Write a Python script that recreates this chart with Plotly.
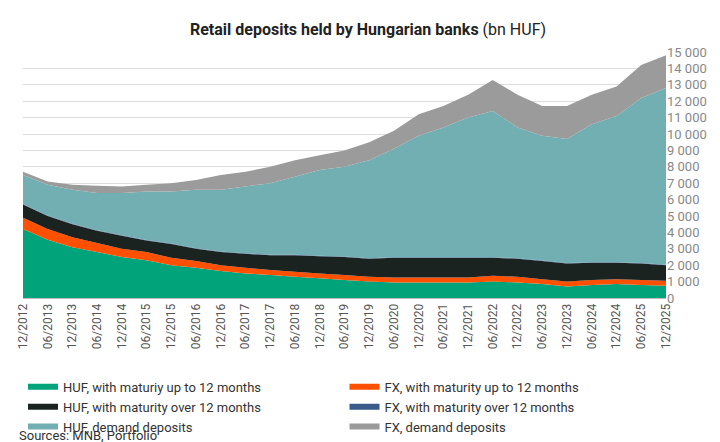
import numpy as np
import plotly.graph_objects as go

dates = ["2012-12-01","2013-06-01","2013-12-01","2014-06-01","2014-12-01","2015-06-01","2015-12-01",
         "2016-06-01","2016-12-01","2017-06-01","2017-12-01","2018-06-01","2018-12-01","2019-06-01",
         "2019-12-01","2020-06-01","2020-12-01","2021-06-01","2021-12-01","2022-06-01","2022-12-01",
         "2023-06-01","2023-12-01","2024-06-01","2024-12-01","2025-06-01","2025-12-01"]
tick_labels = [("12/" if d[5:7] == "12" else "06/") + d[:4] for d in dates]

# Read boundaries (cumulative tops of each stacked layer, bn HUF)
huf_short_top = [4200,3550,3100,2800,2500,2300,2000,1850,1650,1500,1400,1300,1200,1100,1000,950,950,950,950,1000,950,850,700,800,850,800,750]
fx_short_top  = [4900,4200,3700,3350,3000,2800,2450,2250,2000,1850,1700,1600,1500,1400,1300,1250,1250,1250,1250,1350,1300,1150,1000,1100,1150,1100,1050]
huf_long_top  = [5700,5000,4500,4100,3800,3500,3300,3000,2800,2700,2600,2600,2550,2500,2400,2450,2450,2450,2450,2450,2400,2250,2100,2150,2150,2100,2000]
fx_long_top   = [5730,5030,4530,4130,3830,3530,3330,3030,2830,2730,2630,2630,2580,2530,2430,2480,2480,2480,2480,2480,2430,2280,2130,2180,2180,2130,2030]
huf_dem_top   = [7500,6900,6600,6400,6400,6500,6500,6600,6600,6800,7000,7400,7800,8000,8400,9100,9900,10400,11000,11400,10400,9900,9700,10600,11100,12200,12800]
fx_dem_top    = [7700,7100,6900,6850,6800,6900,7000,7200,7500,7700,8000,8400,8700,9000,9500,10200,11200,11700,12400,13300,12400,11700,11700,12400,12900,14200,14800]

tops = np.array([huf_short_top, fx_short_top, huf_long_top, fx_long_top, huf_dem_top, fx_dem_top])
comps = np.diff(np.vstack([np.zeros(len(dates)), tops]), axis=0)

names = ["HUF, with maturiy up to 12 months", "FX, with maturity up to 12 months",
         "HUF, with maturity over 12 months", "FX, with maturity over 12 months",
         "HUF, demand deposits", "FX, demand deposits"]
colors = ["#00A37A", "#FF5000", "#1B2320", "#3A5A8C", "#72AFB2", "#9B9B9B"]

fig = go.Figure()
for n, c, v in zip(names, colors, comps):
    fig.add_trace(go.Scatter(x=dates, y=v, name=n, stackgroup="one", mode="none",
                             fillcolor=c, line=dict(width=0)))

fig.update_layout(
    width=720, height=442, plot_bgcolor="white", paper_bgcolor="white",
    font=dict(family="Roboto", size=13, color="#333"),
    title=dict(text="<b>Retail deposits held by Hungarian banks</b> (bn HUF)", x=0.5, y=0.965,
               xanchor="center", font=dict(size=16, color="#222")),
    margin=dict(l=8, r=62, t=44, b=150),
    xaxis=dict(tickvals=dates, ticktext=tick_labels, tickangle=-90, showgrid=False,
               showline=True, linecolor="#bbb", range=[dates[0], dates[-1]],
               tickfont=dict(size=12, color="#555")),
    yaxis=dict(side="right", range=[0, 15000], dtick=1000, showgrid=True, gridcolor="#ddd",
               tickformat=",d", separatethousands=True, tickfont=dict(size=13, color="#888")),
    separators=". ",
    legend=dict(orientation="h", x=0.0, y=-0.30, xanchor="left", yanchor="top",
                entrywidth=0.5, entrywidthmode="fraction", font=dict(size=13, color="#333"),
                traceorder="normal", tracegroupgap=0, itemwidth=30),
    showlegend=True,
)
fig.add_annotation(text="Sources: MNB, Portfolio", xref="paper", yref="paper", x=-0.01, y=-0.52,
                   xanchor="left", yanchor="top", showarrow=False, font=dict(size=13, color="#333"))
fig.write_html("out.html")
